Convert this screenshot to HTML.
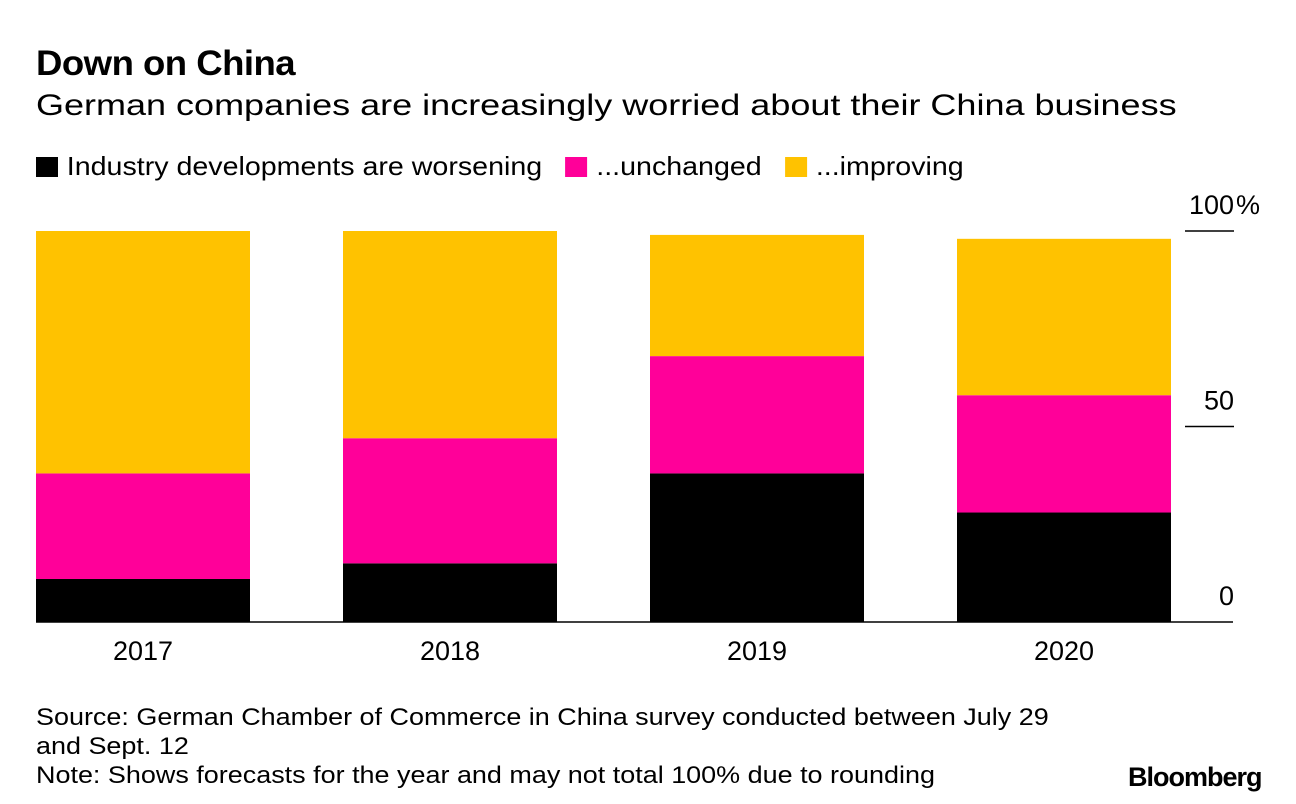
<!DOCTYPE html>
<html><head><meta charset="utf-8"><style>
body{margin:0;background:#fff;width:1296px;height:804px;overflow:hidden;font-family:"Liberation Sans",Arial,sans-serif;color:#000}
.t{position:absolute;white-space:nowrap;transform-origin:0 0}
</style></head><body>
<div class="t" style="left:36px;top:44px;font-size:35px;font-weight:bold;letter-spacing:-0.5px;transform:scaleX(1.044)">Down on China</div>
<div class="t" style="left:36px;top:89px;font-size:30px;transform:scaleX(1.2)">German companies are increasingly worried about their China business</div>
<div class="t" style="left:36px;top:151px;font-size:26px;transform:scaleX(1.1)">
<span><span style="display:inline-block;width:20px;height:20px;background:#000;vertical-align:-2px;margin-right:8px"></span>Industry developments are worsening</span>
<span style="margin-left:14px"><span style="display:inline-block;width:20px;height:20px;background:#ff0099;vertical-align:-2px;margin-right:8px"></span>...unchanged</span>
<span style="margin-left:14px"><span style="display:inline-block;width:20px;height:20px;background:#ffc200;vertical-align:-2px;margin-right:8px"></span>...improving</span>
</div>
<svg id="chart" width="1296" height="804" style="position:absolute;left:0;top:0" font-family="Liberation Sans, Arial, sans-serif"></svg>
<div class="t" style="left:36px;top:703px;font-size:24px;line-height:29px;transform:scaleX(1.123)">Source: German Chamber of Commerce in China survey conducted between July 29<br>and Sept. 12<br>Note: Shows forecasts for the year and may not total 100% due to rounding</div>
<div class="t" style="left:1128px;top:762px;font-size:27px;font-weight:bold;letter-spacing:-1px">Bloomberg</div>
<script>
const years=["2017","2018","2019","2020"];
const worsening=[11,15,38,28];
const unchanged=[27,32,30,30];
const improving=[62,53,31,40];
const ticks=[0,50,100];
const tickLabels=["0","50","100"];
const svg=document.getElementById('chart');
const NS="http://www.w3.org/2000/svg";
const y0=622,pxPer=3.91,x0=36,step=307,bw=214;
const y=v=>y0-v*pxPer;
const x=i=>x0+i*step;
function mk(tag,attrs){const e=document.createElementNS(NS,tag);for(const k in attrs)e.setAttribute(k,attrs[k]);svg.appendChild(e);return e;}
const series=[[worsening,"#000","worsening"],[unchanged,"#ff0099","unchanged"],[improving,"#ffc200","improving"]];
years.forEach((yr,i)=>{
  let base=0;
  series.forEach(([arr,col,nm])=>{
    const r=mk('rect',{x:x(i),y:y(base+arr[i]),width:bw,height:arr[i]*pxPer,fill:col});
    
    
    base+=arr[i];
  });
  const t=mk('text',{x:x(i)+bw/2,y:y0+38,'text-anchor':'middle','font-size':27});
  t.textContent=yr;
  
  
});
const ax=mk('line',{x1:36,x2:1233,y1:y0,y2:y0,stroke:'#000','stroke-width':1.5});


ticks.forEach((v,i)=>{
  if(v>0){const l=mk('line',{x1:1185,x2:1234,y1:y(v),y2:y(v),stroke:'#000','stroke-width':1.5});
  
  }
  const t=mk('text',{x:1234,y:y(v)-17,'text-anchor':'end','font-size':27});
  t.textContent=tickLabels[i];
  
  
  if(v===100){const p=mk('text',{x:1236,y:y(v)-17,'font-size':27});p.textContent='%';
  
  }
});
</script>
</body></html>
